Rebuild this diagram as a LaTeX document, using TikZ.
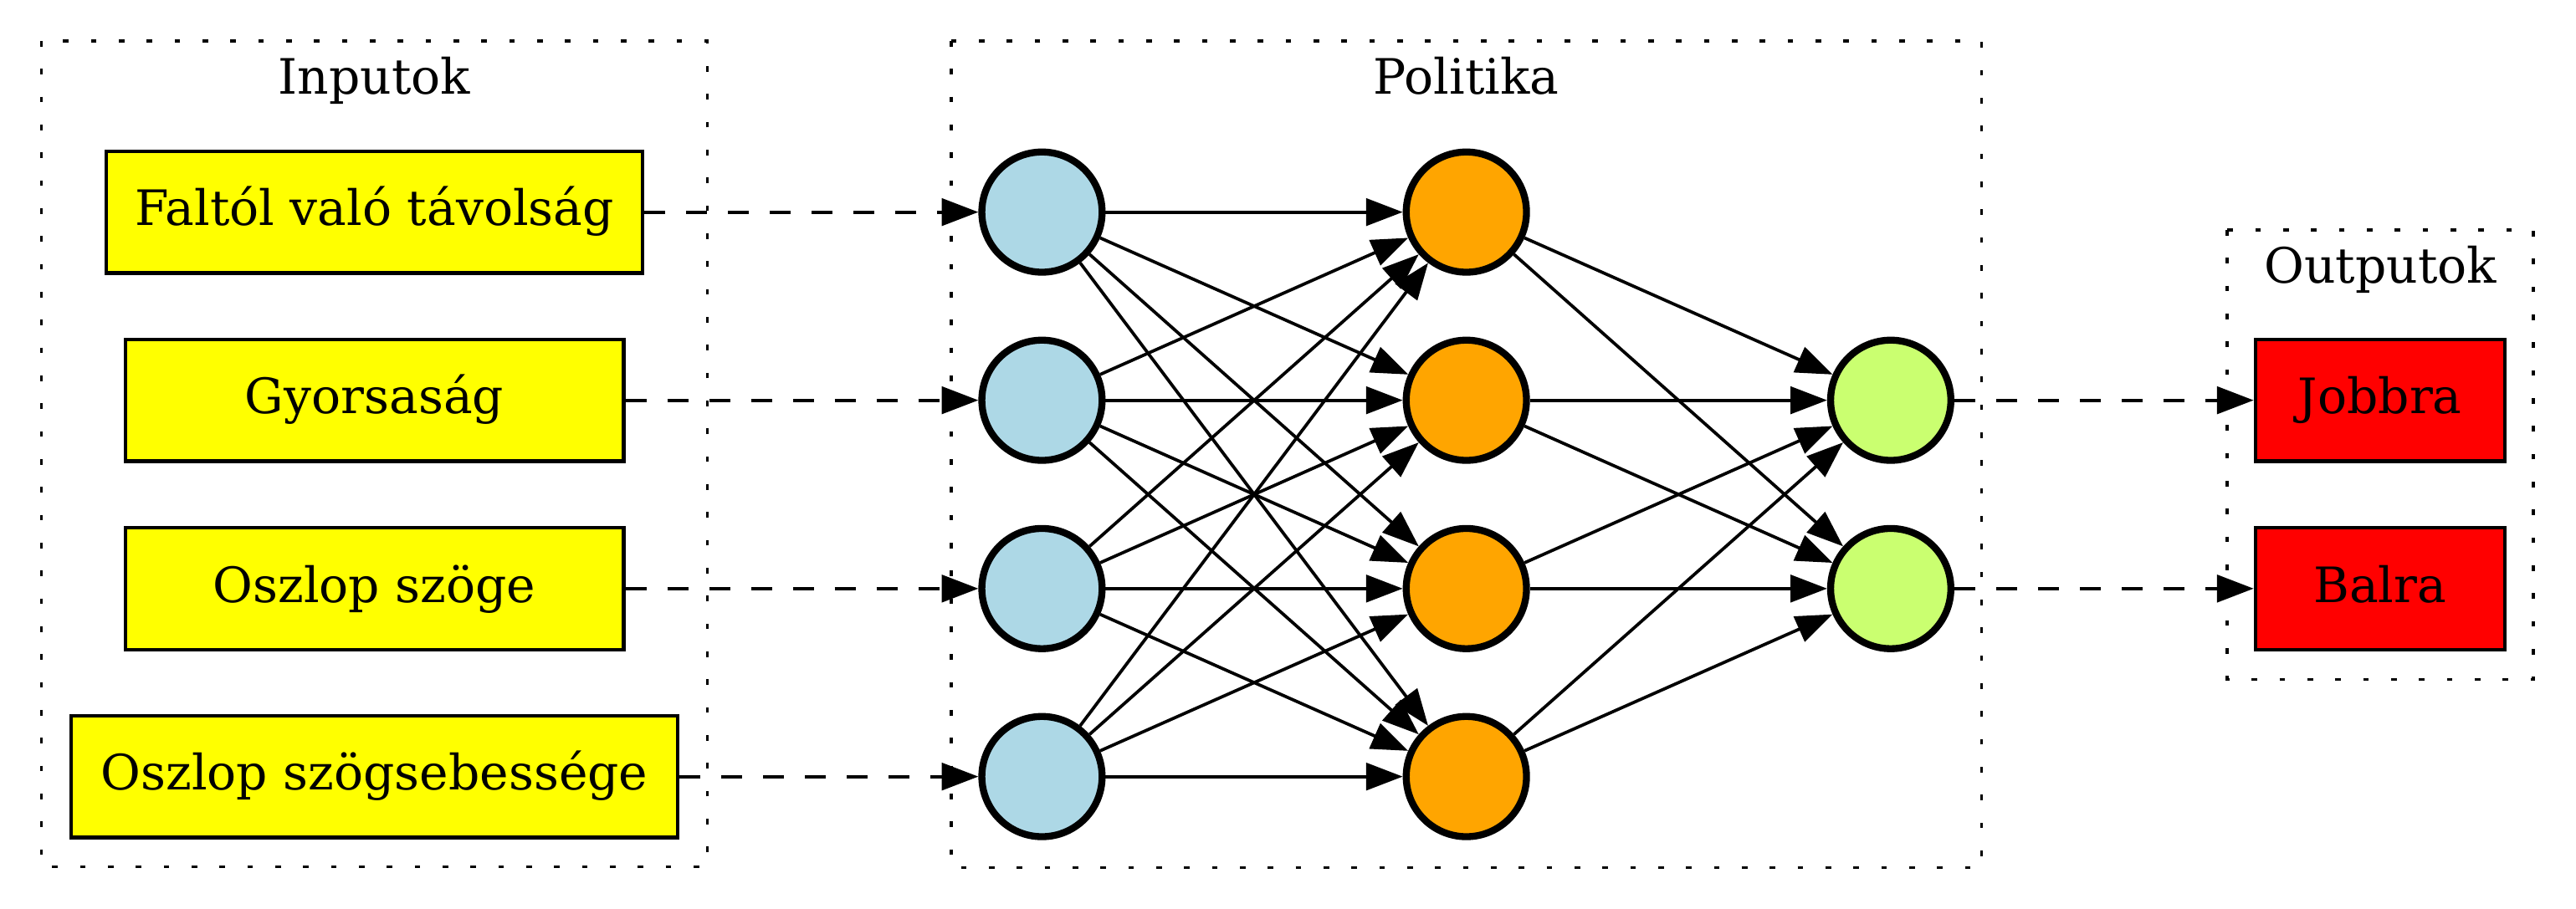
\documentclass[tikz,border=0pt]{standalone}
\usepackage{fontspec}
\setmainfont{DejaVu Serif}
\usetikzlibrary{arrows.meta}
\definecolor{inblue}{HTML}{ADD8E6}
\definecolor{hidorange}{HTML}{FFA500}
\definecolor{outgreen}{HTML}{CAFF70}
\definecolor{inyellow}{HTML}{FFFF00}
\definecolor{outred}{HTML}{FF0000}
\begin{document}
\begin{tikzpicture}[x=0.4737pt,y=0.4737pt,
		>={Triangle[length=10.5pt,width=7.8pt]},
		font=\fontsize{14}{17}\selectfont,
		cluster/.style={draw,line width=0.8pt,dash pattern=on 1.6pt off 6.4pt},
		box/.style={draw=black,line width=1pt,minimum height=35pt,text height=11pt,text depth=3.2pt},
		neuron/.style={circle,draw=black,line width=2pt,minimum size=34.5pt,inner sep=0pt},
		syn/.style={<-,line width=0.9pt},
		feed/.style={->,line width=0.9pt,dash pattern=on 6pt off 6pt}]
		\useasboundingbox (0,0) rectangle (1560,-550.7);
		% csoportok
		\draw[cluster] (25.2,-24.8) rectangle (428.3,-525);
		\draw[cluster] (576,-24.8) rectangle (1200,-525.5);
		\draw[cluster] (1348.7,-139.3) rectangle (1534.2,-411.6);
		\node[anchor=base] (linp) at (226.75,-57) {Inputok};
		\node[anchor=base] (lpol) at (888,-57) {Politika};
		\node[anchor=base] (lout) at (1441.5,-171.3) {Outputok};
		% bemeneti reteg
		\node[neuron,fill=inblue] (i1) at (631,-128.5) {};
		\node[neuron,fill=inblue] (i2) at (631,-242.5) {};
		\node[neuron,fill=inblue] (i3) at (631,-356.6) {};
		\node[neuron,fill=inblue] (i4) at (631,-470.5) {};
		% rejtett reteg
		\node[neuron,fill=hidorange] (h1) at (888,-128.5) {}
			edge[syn] (i1)
			edge[syn] (i2)
			edge[syn] (i3)
			edge[syn] (i4);
		\node[neuron,fill=hidorange] (h2) at (888,-242.5) {}
			edge[syn] (i1)
			edge[syn] (i2)
			edge[syn] (i3)
			edge[syn] (i4);
		\node[neuron,fill=hidorange] (h3) at (888,-356.6) {}
			edge[syn] (i1)
			edge[syn] (i2)
			edge[syn] (i3)
			edge[syn] (i4);
		\node[neuron,fill=hidorange] (h4) at (888,-470.5) {}
			edge[syn] (i1)
			edge[syn] (i2)
			edge[syn] (i3)
			edge[syn] (i4);
		% inputok
		\node[box,fill=inyellow,minimum width=154pt] (in1) at (226.75,-128.5) {Faltól való távolság}
			edge[feed] (i1);
		\node[box,fill=inyellow,minimum width=143pt] (in2) at (226.75,-242.5) {Gyorsaság}
			edge[feed] (i2);
		\node[box,fill=inyellow,minimum width=143pt] (in3) at (226.75,-356.6) {Oszlop szöge}
			edge[feed] (i3);
		\node[box,fill=inyellow,minimum width=174pt] (in4) at (226.75,-470.5) {Oszlop szögsebessége}
			edge[feed] (i4);
		% outputok
		\node[box,fill=outred,minimum width=71.5pt] (out1) at (1441.3,-242.5) {Jobbra};
		\node[box,fill=outred,minimum width=71.5pt] (out2) at (1441.3,-356.6) {Balra};
		\node[neuron,fill=outgreen] (y1) at (1145,-242.5) {}
			edge[syn] (h1)
			edge[syn] (h2)
			edge[syn] (h3)
			edge[syn] (h4)
			edge[feed] (out1);
		\node[neuron,fill=outgreen] (y2) at (1145,-356.6) {}
			edge[syn] (h1)
			edge[syn] (h2)
			edge[syn] (h3)
			edge[syn] (h4)
			edge[feed] (out2);
	\end{tikzpicture}
\end{document}
